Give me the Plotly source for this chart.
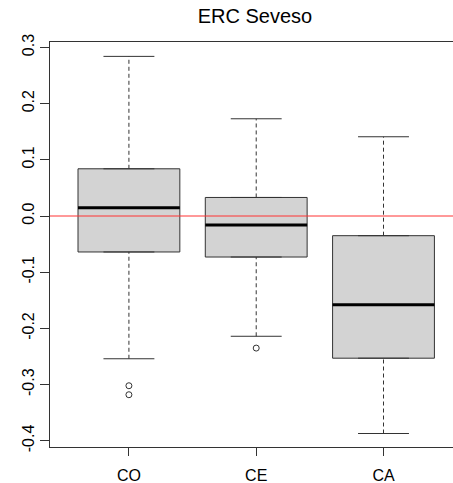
import plotly.graph_objects as go

categories = ["CO", "CE", "CA"]
positions = [1, 2, 3]
whisker_low = [-0.254, -0.214, -0.387]
q1 = [-0.064, -0.073, -0.253]
median = [0.0145, -0.016, -0.158]
q3 = [0.084, 0.033, -0.035]
whisker_high = [0.284, 0.173, 0.141]
outliers = [[-0.302, -0.318], [-0.235], []]
yticks = [-0.4, -0.3, -0.2, -0.1, 0.0, 0.1, 0.2, 0.3]
ytick_labels = ["-0.4", "-0.3", "-0.2", "-0.1", "0.0", "0.1", "0.2", "0.3"]
ref_line = 0.0

box_w = 0.8
cap_w = 0.4
line_col = "#333333"

fig = go.Figure()

# whiskers (dashed) and caps
for i, x in enumerate(positions):
    fig.add_trace(go.Scatter(x=[x, x], y=[q3[i], whisker_high[i]], mode="lines",
                             line=dict(color=line_col, width=1, dash="4px,3px"),
                             showlegend=False, hoverinfo="skip"))
    fig.add_trace(go.Scatter(x=[x, x], y=[whisker_low[i], q1[i]], mode="lines",
                             line=dict(color=line_col, width=1, dash="4px,3px"),
                             showlegend=False, hoverinfo="skip"))
    for yv in (whisker_high[i], whisker_low[i]):
        fig.add_trace(go.Scatter(x=[x - cap_w / 2, x + cap_w / 2], y=[yv, yv], mode="lines",
                                 line=dict(color=line_col, width=1),
                                 showlegend=False, hoverinfo="skip"))

# boxes
fig.add_trace(go.Box(
    x=positions, q1=q1, median=median, q3=q3,
    lowerfence=q1, upperfence=q3,
    width=box_w, fillcolor="#d3d3d3",
    line=dict(color=line_col, width=1),
    boxpoints=False, showlegend=False, hoverinfo="skip",
))

# medians (thick)
for i, x in enumerate(positions):
    fig.add_trace(go.Scatter(x=[x - box_w / 2, x + box_w / 2], y=[median[i], median[i]],
                             mode="lines", line=dict(color="black", width=3),
                             showlegend=False, hoverinfo="skip"))

# outliers
ox, oy = [], []
for i, x in enumerate(positions):
    for v in outliers[i]:
        ox.append(x)
        oy.append(v)
fig.add_trace(go.Scatter(x=ox, y=oy, mode="markers",
                         marker=dict(symbol="circle-open", size=6, color=line_col,
                                     line=dict(width=1, color=line_col)),
                         showlegend=False, hoverinfo="skip"))

fig.add_shape(type="line", xref="paper", x0=0, x1=1, yref="y", y0=ref_line, y1=ref_line,
              line=dict(color="#ff3333", width=1), layer="above")

fig.update_layout(
    width=453, height=483,
    margin=dict(l=50, r=0, t=42, b=36),
    paper_bgcolor="white", plot_bgcolor="white",
    font=dict(family="Liberation Sans, Arial, sans-serif", color="black"),
    title=dict(text="ERC Seveso", x=0.5627, xanchor="center", y=1 - 16 / 483, yanchor="middle",
               font=dict(size=20, color="black")),
    showlegend=False,
)
fig.update_xaxes(
    range=[0.38, 3.546], tickmode="array", tickvals=positions, ticktext=categories,
    showgrid=False, zeroline=False, showline=True, linecolor=line_col, linewidth=1,
    mirror=True, ticks="outside", ticklen=8, tickcolor=line_col,
    tickfont=dict(size=16), ticklabelstandoff=6, fixedrange=True,
)
fig.update_yaxes(
    range=[-0.411, 0.3096], tickmode="array", tickvals=yticks, ticktext=ytick_labels,
    showgrid=False, zeroline=False, showline=True, linecolor=line_col, linewidth=1,
    mirror=False, ticks="outside", ticklen=9, tickcolor=line_col,
    tickangle=-90, tickfont=dict(size=16), fixedrange=True,
)

fig.write_html("out.html")
